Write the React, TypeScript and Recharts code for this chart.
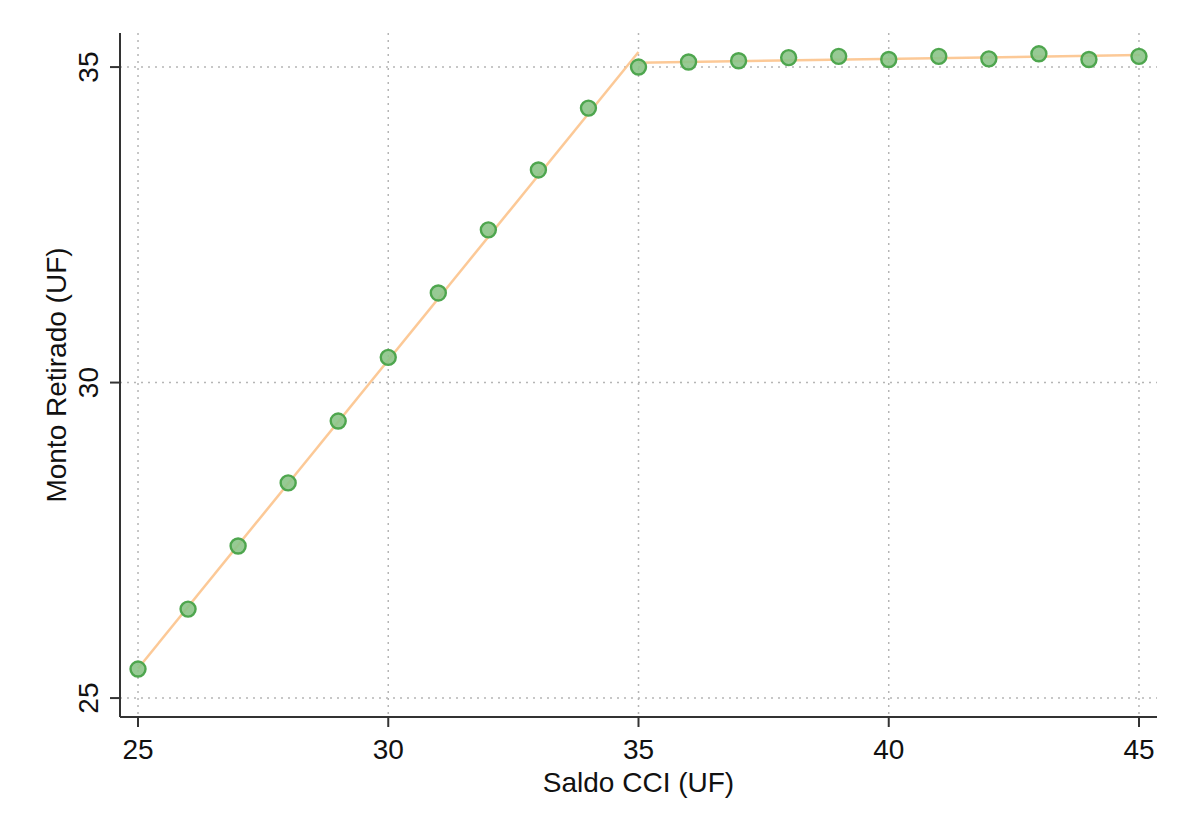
import React from 'react';
import { ComposedChart, Scatter, Line, XAxis, YAxis, CartesianGrid } from 'recharts';

const saldo = [25, 26, 27, 28, 29, 30, 31, 32, 33, 34, 35, 36, 37, 38, 39, 40, 41, 42, 43, 44, 45];
const monto = [25.46, 26.41, 27.41, 28.41, 29.39, 30.40, 31.42, 32.42, 33.37, 34.35, 35.00, 35.08, 35.10, 35.15, 35.17, 35.12, 35.17, 35.13, 35.21, 35.12, 35.17];

const fitLeftX = [25, 35];
const fitLeftY = [25.47, 35.24];
const fitRightX = [35, 45];
const fitRightY = [35.07, 35.19];

const xTicks = [25, 30, 35, 40, 45];
const yTicks = [25, 30, 35];

const points = saldo.map((x, i) => ({ x, y: monto[i] }));
const leftFit = fitLeftX.map((x, i) => ({ x, y: fitLeftY[i] }));
const rightFit = fitRightX.map((x, i) => ({ x, y: fitRightY[i] }));

const FONT = '"Liberation Sans", Arial, sans-serif';
const FS = 28;

const YTick = (props: any) => {
  const { x, y, payload } = props;
  return (
    <text
      transform={`translate(${x - 14}, ${y}) rotate(-90)`}
      textAnchor="middle"
      dominantBaseline="central"
      fontFamily={FONT}
      fontSize={FS}
      fill="#111"
    >
      {payload.value}
    </text>
  );
};

export default function App() {
  return (
    <div style={{ position: 'absolute', left: 0, top: 0, background: '#fff' }}>
      <ComposedChart
        width={1177}
        height={823}
        margin={{ top: 33, right: 20, bottom: 56, left: 0 }}
        style={{ fontFamily: FONT }}
      >
        <CartesianGrid
          stroke="#b5b5b5"
          strokeWidth={1.5}
          strokeDasharray="2 5"
          horizontalValues={yTicks}
          verticalValues={xTicks}
        />
        <XAxis
          type="number"
          dataKey="x"
          domain={[24.64, 45.36]}
          ticks={xTicks}
          allowDataOverflow
          height={50}
          tickSize={10}
          tickMargin={12}
          stroke="#333"
          strokeWidth={2}
          tick={{ fill: '#111', fontSize: FS, fontFamily: FONT }}
          label={{ value: 'Saldo CCI (UF)', position: 'bottom', offset: 5, fill: '#111', fontSize: FS, fontFamily: FONT }}
        />
        <YAxis
          type="number"
          dataKey="y"
          domain={[24.7, 35.54]}
          ticks={yTicks}
          allowDataOverflow
          width={120}
          tickSize={10}
          tickMargin={8}
          stroke="#333"
          strokeWidth={2}
          tick={<YTick />}
          label={{ value: 'Monto Retirado (UF)', angle: -90, position: 'insideLeft', offset: 56, textAnchor: 'middle', fill: '#111', fontSize: FS, fontFamily: FONT }}
        />
        <Scatter
          data={points}
          dataKey="y"
          isAnimationActive={false}
          shape={(p: any) => (
            <circle cx={p.cx} cy={p.cy} r={7.5} fill="#8cc488" fillOpacity={0.9} stroke="#4ea64e" strokeWidth={2.4} />
          )}
        />
        <Line
          data={leftFit}
          dataKey="y"
          type="linear"
          stroke="#fbbf85"
          strokeOpacity={0.85}
          strokeWidth={2.5}
          dot={false}
          activeDot={false}
          isAnimationActive={false}
        />
        <Line
          data={rightFit}
          dataKey="y"
          type="linear"
          stroke="#fbbf85"
          strokeOpacity={0.85}
          strokeWidth={2.5}
          dot={false}
          activeDot={false}
          isAnimationActive={false}
        />
      </ComposedChart>
    </div>
  );
}
